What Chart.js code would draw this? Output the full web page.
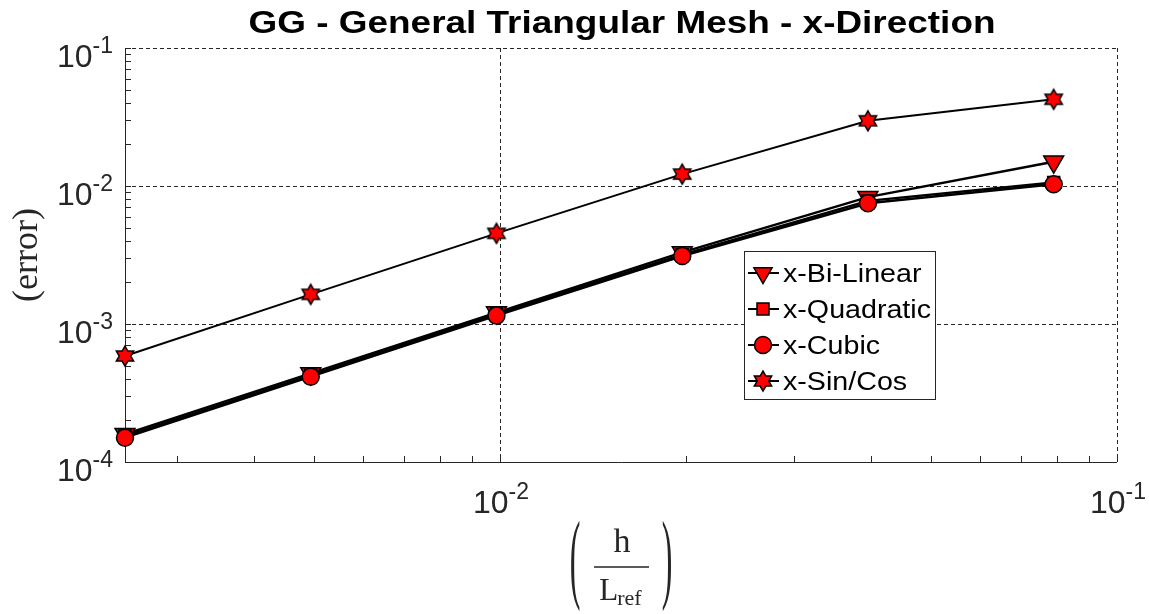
<!DOCTYPE html>
<html>
<head>
<meta charset="utf-8">
<title>GG - General Triangular Mesh - x-Direction</title>
<script src="https://cdn.jsdelivr.net/npm/chart.js@4.4.1/dist/chart.umd.min.js"></script>
<style>
    html, body { margin: 0; padding: 0; background: #fff; }
    #errorChart { display: block; background: #fff; }
</style>
</head>
<body>
<canvas id="errorChart" width="1149" height="614"></canvas>
<script>
// Mesh size h / L_ref (each level halves h)
const hValues = [0.002467, 0.004934, 0.009868, 0.01974, 0.03947, 0.07895];

// Gradient error in x for each reconstruction
const biLinear  = [1.59e-4, 4.38e-4, 1.21e-3, 3.30e-3, 8.3e-3, 1.50e-2];
const quadratic = [1.54e-4, 4.25e-4, 1.18e-3, 3.18e-3, 7.8e-3, 1.06e-2];
const cubic     = [1.50e-4, 4.15e-4, 1.15e-3, 3.11e-3, 7.5e-3, 1.03e-2];
const sinCos    = [5.86e-4, 1.64e-3, 4.54e-3, 1.22e-2, 2.97e-2, 4.25e-2];

const seriesNames = ['x-Bi-Linear', 'x-Quadratic', 'x-Cubic', 'x-Sin/Cos'];

// Axis ticks
const xTickValues = [0.01, 0.1];
const xTickLabels = ['10^-2', '10^-1'];
const yTickValues = [1e-4, 1e-3, 1e-2, 1e-1];
const yTickLabels = ['10^-4', '10^-3', '10^-2', '10^-1'];

document.addEventListener("DOMContentLoaded", function () {
    const AXIS_COLOR = '#262626';
    const SANS = '"Liberation Sans", Arial, Helvetica, sans-serif';
    const SERIF = '"Liberation Serif", "Times New Roman", serif';
    const X_MIN = hValues[0], X_MAX = 0.1;
    const Y_MIN = 1e-4, Y_MAX = 1e-1;

    // minor ticks 2..9 x 10^k inside a range
    function minorTicks(min, max) {
        const out = [];
        for (let e = Math.floor(Math.log10(min)); e < Math.log10(max); e++) {
            for (let m = 2; m <= 9; m++) {
                const v = m * Math.pow(10, e);
                if (v > min * 1.0001 && v < max * 0.9999) out.push(v);
            }
        }
        return out;
    }

    // MATLAB style hexagram marker
    function makeHexagram(R) {
        const c = document.createElement('canvas');
        const size = Math.ceil(2 * R + 4);
        c.width = size; c.height = size;
        const g = c.getContext('2d');
        const r = R / Math.sqrt(3);
        g.beginPath();
        for (let i = 0; i < 12; i++) {
            const ang = -Math.PI / 2 + i * Math.PI / 6;
            const rad = i % 2 === 0 ? R : r;
            const px = size / 2 + rad * Math.cos(ang);
            const py = size / 2 + rad * Math.sin(ang);
            if (i === 0) g.moveTo(px, py); else g.lineTo(px, py);
        }
        g.closePath();
        g.fillStyle = '#ff0000';
        g.fill();
        g.lineWidth = 1.5;
        g.strokeStyle = '#000';
        g.stroke();
        return c;
    }
    const hexagram = makeHexagram(10);

    function toPoints(values) {
        return hValues.map((h, i) => ({ x: h, y: values[i] }));
    }

    function baseSeries(label, values, order) {
        return {
            label: label,
            data: toPoints(values),
            showLine: true,
            borderColor: '#000',
            borderWidth: 2.4,
            pointBackgroundColor: '#ff0000',
            pointBorderColor: '#000',
            pointBorderWidth: 1.5,
            pointRadius: 8.5,
            clip: false,
            order: order
        };
    }

    const datasets = [
        Object.assign(baseSeries(seriesNames[0], biLinear, 3), { pointStyle: 'triangle', pointRotation: 180, pointRadius: 11.5 }),
        Object.assign(baseSeries(seriesNames[1], quadratic, 2), { pointStyle: 'rect', pointRadius: 8.5 }),
        Object.assign(baseSeries(seriesNames[2], cubic, 1), { pointStyle: 'circle', pointRadius: 8.5 }),
        Object.assign(baseSeries(seriesNames[3], sinCos, 0), { pointStyle: hexagram, pointRadius: 10, borderWidth: 2 })
    ];

    function crisp(p) { return Math.round(p) + 0.5; }

    // "10^-2" -> base + superscript
    function drawPower(ctx, label, x, y, align) {
        const parts = label.split('^');
        ctx.font = '32px ' + SANS;
        const wBase = ctx.measureText(parts[0]).width;
        ctx.font = '23px ' + SANS;
        const wSup = ctx.measureText(parts[1]).width;
        let left = x;
        if (align === 'right') left = x - wBase - wSup;
        if (align === 'center') left = x - (wBase + wSup) / 2;
        ctx.textAlign = 'left';
        ctx.textBaseline = 'alphabetic';
        ctx.font = '32px ' + SANS;
        ctx.fillText(parts[0], left, y);
        ctx.font = '23px ' + SANS;
        ctx.fillText(parts[1], left + wBase, y - 14);
    }

    function drawStretched(ctx, text, x, y, sx, align) {
        ctx.save();
        ctx.translate(x, y);
        ctx.scale(sx, 1);
        ctx.textAlign = align;
        ctx.fillText(text, 0, 0);
        ctx.restore();
    }

    const matlabAxes = {
        id: 'matlabAxes',
        beforeDatasetsDraw(chart) {
            const { ctx, chartArea: a, scales: { x, y } } = chart;
            ctx.save();
            // dashed grid at the decades
            ctx.strokeStyle = AXIS_COLOR;
            ctx.lineWidth = 1;
            ctx.setLineDash([4, 3]);
            ctx.beginPath();
            xTickValues.forEach(v => {
                const px = crisp(x.getPixelForValue(v));
                ctx.moveTo(px, a.top); ctx.lineTo(px, a.bottom);
            });
            yTickValues.forEach(v => {
                const py = crisp(y.getPixelForValue(v));
                ctx.moveTo(a.left, py); ctx.lineTo(a.right, py);
            });
            ctx.stroke();
            ctx.setLineDash([]);

            // inward tick marks
            const tick = 6;
            ctx.beginPath();
            xTickValues.concat(minorTicks(X_MIN, X_MAX)).forEach(v => {
                const px = crisp(x.getPixelForValue(v));
                ctx.moveTo(px, a.bottom); ctx.lineTo(px, a.bottom - tick);
            });
            yTickValues.concat(minorTicks(Y_MIN, Y_MAX)).forEach(v => {
                const py = crisp(y.getPixelForValue(v));
                ctx.moveTo(a.left, py); ctx.lineTo(a.left + tick, py);
            });
            ctx.stroke();

            // left and bottom axis lines
            ctx.beginPath();
            ctx.moveTo(crisp(a.left), a.top);
            ctx.lineTo(crisp(a.left), crisp(a.bottom));
            ctx.lineTo(a.right, crisp(a.bottom));
            ctx.stroke();
            ctx.restore();
        },
        afterDraw(chart) {
            const { ctx, chartArea: a, scales: { x, y } } = chart;
            ctx.save();
            ctx.fillStyle = AXIS_COLOR;

            // tick labels
            yTickValues.forEach((v, i) => {
                drawPower(ctx, yTickLabels[i], a.left - 12, y.getPixelForValue(v) + 19, 'right');
            });
            xTickValues.forEach((v, i) => {
                drawPower(ctx, xTickLabels[i], x.getPixelForValue(v) + 1, a.bottom + 51, 'center');
            });

            // y axis title
            ctx.save();
            ctx.translate(28, (a.top + a.bottom) / 2);
            ctx.rotate(-Math.PI / 2);
            ctx.font = '36px ' + SERIF;
            ctx.textAlign = 'center';
            ctx.textBaseline = 'middle';
            ctx.fillText('(error)', 0, 0);
            ctx.restore();

            // x axis title: ( h / L_ref )
            const cx = (a.left + a.right) / 2;
            const barY = a.bottom + 105;
            ctx.textBaseline = 'alphabetic';
            ctx.font = '34px ' + SERIF;
            ctx.textAlign = 'center';
            ctx.fillText('h', cx + 1, barY - 15);
            ctx.fillRect(cx - 27, barY - 0.75, 55, 1.5);
            ctx.font = '31px ' + SERIF;
            const wL = ctx.measureText('L').width;
            ctx.font = '22px ' + SERIF;
            const wRef = ctx.measureText('ref').width;
            const lx = cx - (wL + wRef) / 2;
            ctx.textAlign = 'left';
            ctx.font = '31px ' + SERIF;
            ctx.fillText('L', lx, barY + 33);
            ctx.font = '22px ' + SERIF;
            ctx.fillText('ref', lx + wL - 1, barY + 38);
            ctx.font = '32px ' + SERIF;
            ctx.textAlign = 'center';
            [['(', cx - 46], [')', cx + 46]].forEach(([ch, px]) => {
                ctx.save();
                ctx.translate(px, barY);
                ctx.scale(1, 3.1);
                ctx.fillText(ch, 0, 0.235 * 32);
                ctx.restore();
            });

            // title
            ctx.fillStyle = '#000';
            ctx.font = 'bold 31px ' + SANS;
            ctx.textBaseline = 'alphabetic';
            const title = 'GG - General Triangular Mesh - x-Direction';
            const titleSx = 747 / ctx.measureText(title).width;
            drawStretched(ctx, title, cx + 1, 33, titleSx, 'center');

            // legend box
            const box = { left: 744, top: 251, right: 935, bottom: 399 };
            ctx.fillStyle = '#fff';
            ctx.fillRect(box.left, box.top, box.right - box.left, box.bottom - box.top);
            ctx.strokeStyle = AXIS_COLOR;
            ctx.lineWidth = 1;
            ctx.strokeRect(box.left + 0.5, box.top + 0.5, box.right - box.left, box.bottom - box.top);

            ctx.font = '25px ' + SANS;
            const legendSx = 148 / ctx.measureText('x-Quadratic').width;
            chart.data.datasets.forEach((ds, i) => {
                const ry = box.top + 22 + i * 36;
                ctx.strokeStyle = '#000';
                ctx.lineWidth = 2;
                ctx.beginPath();
                ctx.moveTo(box.left + 4, ry);
                ctx.lineTo(box.left + 35, ry);
                ctx.stroke();
                ctx.fillStyle = ds.pointBackgroundColor;
                ctx.strokeStyle = ds.pointBorderColor;
                ctx.lineWidth = ds.pointBorderWidth;
                Chart.helpers.drawPoint(ctx, {
                    pointStyle: ds.pointStyle,
                    rotation: ds.pointRotation || 0,
                    radius: ds.pointStyle === 'triangle' ? 10.5 : ds.pointRadius,
                    borderWidth: ds.pointBorderWidth
                }, box.left + 19, ry);
                ctx.fillStyle = '#000';
                ctx.font = '25px ' + SANS;
                drawStretched(ctx, ds.label, box.left + 39, ry + 9, legendSx, 'left');
            });
            ctx.restore();
        }
    };

    const errorCtx = document.getElementById('errorChart').getContext('2d');
    new Chart(errorCtx, {
        type: 'scatter',
        data: { datasets: datasets },
        options: {
            responsive: false,
            animation: false,
            events: [],
            layout: { padding: { left: 125, right: 32, top: 48, bottom: 152 } },
            plugins: {
                legend: { display: false },
                title: { display: false },
                tooltip: { enabled: false }
            },
            scales: {
                x: { type: 'logarithmic', display: false, min: X_MIN, max: X_MAX },
                y: { type: 'logarithmic', display: false, min: Y_MIN, max: Y_MAX }
            }
        },
        plugins: [matlabAxes]
    });
});
</script>
</body>
</html>
